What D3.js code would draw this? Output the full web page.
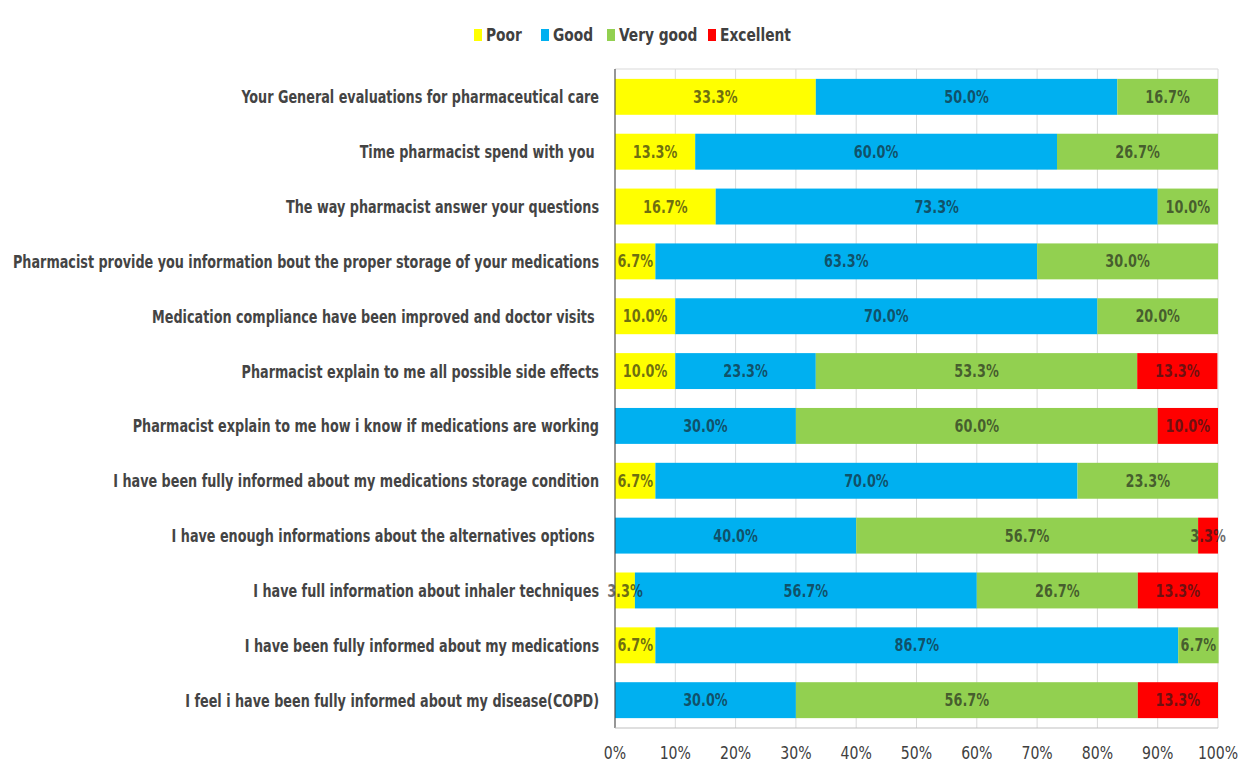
<!DOCTYPE html>
<html>
<head>
<meta charset="utf-8">
<script src="https://cdn.jsdelivr.net/npm/d3@7"></script>
<style>
  body { margin: 0; background: #fff; }
  text { font-family: "DejaVu Sans Condensed", "DejaVu Sans", sans-serif; }
</style>
</head>
<body>
<div id="viz"></div>
<script>
const w = 1246;
const h = 763;

// questions, top to bottom
const questions = [
  "Your General evaluations for pharmaceutical care",
  "Time pharmacist spend with you ",
  "The way pharmacist answer your questions",
  "Pharmacist provide you information bout the proper storage of your medications",
  "Medication compliance have been improved and doctor visits ",
  "Pharmacist explain to me all possible side effects",
  "Pharmacist explain to me how i know if medications are working",
  "I have been fully informed about my medications storage condition",
  "I have enough informations about the alternatives options ",
  "I have full information about inhaler techniques",
  "I have been fully informed about my medications",
  "I feel i have been fully informed about my disease(COPD)"
];
const series = ["Poor", "Good", "Very good", "Excellent"];
const poor      = [33.3, 13.3, 16.7, 6.7, 10.0, 10.0, 0, 6.7, 0, 3.3, 6.7, 0];
const good      = [50.0, 60.0, 73.3, 63.3, 70.0, 23.3, 30.0, 70.0, 40.0, 56.7, 86.7, 30.0];
const veryGood  = [16.7, 26.7, 10.0, 30.0, 20.0, 53.3, 60.0, 23.3, 56.7, 26.7, 6.7, 56.7];
const excellent = [0, 0, 0, 0, 0, 13.3, 10.0, 0, 3.3, 13.3, 0, 13.3];
const ticks = [0, 10, 20, 30, 40, 50, 60, 70, 80, 90, 100];
const colors = ["#ffff00", "#00b0f0", "#92d050", "#ff0000"];

const margin = {left: 615, right: 28, top: 69, bottom: 35};

const svg = d3.select('#viz').append('svg')
    .attr('width', w)
    .attr('height', h)

const x = d3.scaleLinear().domain([0, 100]).range([margin.left, w - margin.right])
const y = d3.scaleBand().domain(questions).range([margin.top, h - margin.bottom]).paddingInner(0.345).paddingOuter(0.18)

// squeeze text horizontally (reference font is a narrow one)
function squeeze(sel, factor) {
  sel.each(function() {
    const len = this.getComputedTextLength();
    d3.select(this).attr('textLength', len * factor).attr('lengthAdjust', 'spacingAndGlyphs')
  })
}

// gridlines
svg.append('g').selectAll('line')
    .data(ticks)
    .join('line')
    .attr('x1', d => x(d)).attr('x2', d => x(d))
    .attr('y1', margin.top).attr('y2', h - margin.bottom)
    .attr('stroke', '#d9d9d9')
svg.append('line')
    .attr('x1', x(0)).attr('x2', x(100))
    .attr('y1', margin.top).attr('y2', margin.top)
    .attr('stroke', '#d9d9d9')

// stack
const rows = questions.map((q, i) => ({q, Poor: poor[i], Good: good[i], "Very good": veryGood[i], Excellent: excellent[i]}))
const stacked = d3.stack().keys(series)(rows)

const layers = svg.append('g').selectAll('g')
    .data(stacked)
    .join('g')
    .attr('fill', (d, i) => colors[i])

layers.selectAll('rect')
    .data(d => d.filter(s => s[1] - s[0] > 0))
    .join('rect')
    .attr('x', d => x(d[0]))
    .attr('width', d => x(d[1]) - x(d[0]))
    .attr('y', d => y(d.data.q))
    .attr('height', y.bandwidth())

// value labels
const labels = svg.append('g')
stacked.forEach(layer => {
  layer.forEach(s => {
    const v = s[1] - s[0];
    if (v <= 0) return;
    labels.append('text')
        .attr('x', x((s[0] + s[1]) / 2))
        .attr('y', y(s.data.q) + y.bandwidth() / 2)
        .attr('dy', '0.36em')
        .attr('text-anchor', 'middle')
        .attr('font-size', 17)
        .attr('font-weight', 'bold')
        .attr('fill', '#1a1a1a')
        .attr('fill-opacity', 0.65)
        .text(d3.format('.1f')(s.data[layer.key]) + '%')
  })
})
squeeze(labels.selectAll('text'), 0.84)

// axes
svg.append('line')
    .attr('x1', x(0)).attr('x2', x(0))
    .attr('y1', margin.top).attr('y2', h - margin.bottom)
    .attr('stroke', '#404040')
svg.append('line')
    .attr('x1', x(0)).attr('x2', x(100))
    .attr('y1', h - margin.bottom).attr('y2', h - margin.bottom)
    .attr('stroke', '#bfbfbf')

const tickText = svg.append('g').selectAll('text')
    .data(ticks)
    .join('text')
    .attr('x', d => x(d))
    .attr('y', 753)
    .attr('dy', '0.36em')
    .attr('text-anchor', 'middle')
    .attr('font-size', 17)
    .attr('fill', '#404040')
    .text(d => d + '%')
squeeze(tickText, 0.92)

const qText = svg.append('g').selectAll('text')
    .data(questions)
    .join('text')
    .attr('x', 599)
    .attr('y', d => y(d) + y.bandwidth() / 2)
    .attr('dy', '0.36em')
    .attr('text-anchor', 'end')
    .attr('font-size', 18)
    .attr('font-weight', 'bold')
    .attr('fill', '#444')
    .attr('xml:space', 'preserve')
    .text(d => d)
// longest label spans about 586px in the reference
let maxLen = 0
qText.each(function() { maxLen = Math.max(maxLen, this.getComputedTextLength()) })
squeeze(qText, 586 / maxLen)

// legend
const legendX = [474, 541, 607, 708];
const legend = svg.append('g')
series.forEach((s, i) => {
  legend.append('rect')
      .attr('x', legendX[i]).attr('y', 29)
      .attr('width', 8).attr('height', 12)
      .attr('fill', colors[i])
  legend.append('text')
      .attr('x', legendX[i] + 12).attr('y', 35)
      .attr('dy', '0.36em')
      .attr('font-size', 17)
      .attr('font-weight', 'bold')
      .attr('fill', '#404040')
      .text(s)
})
squeeze(legend.selectAll('text'), 0.9)
</script>
</body>
</html>
